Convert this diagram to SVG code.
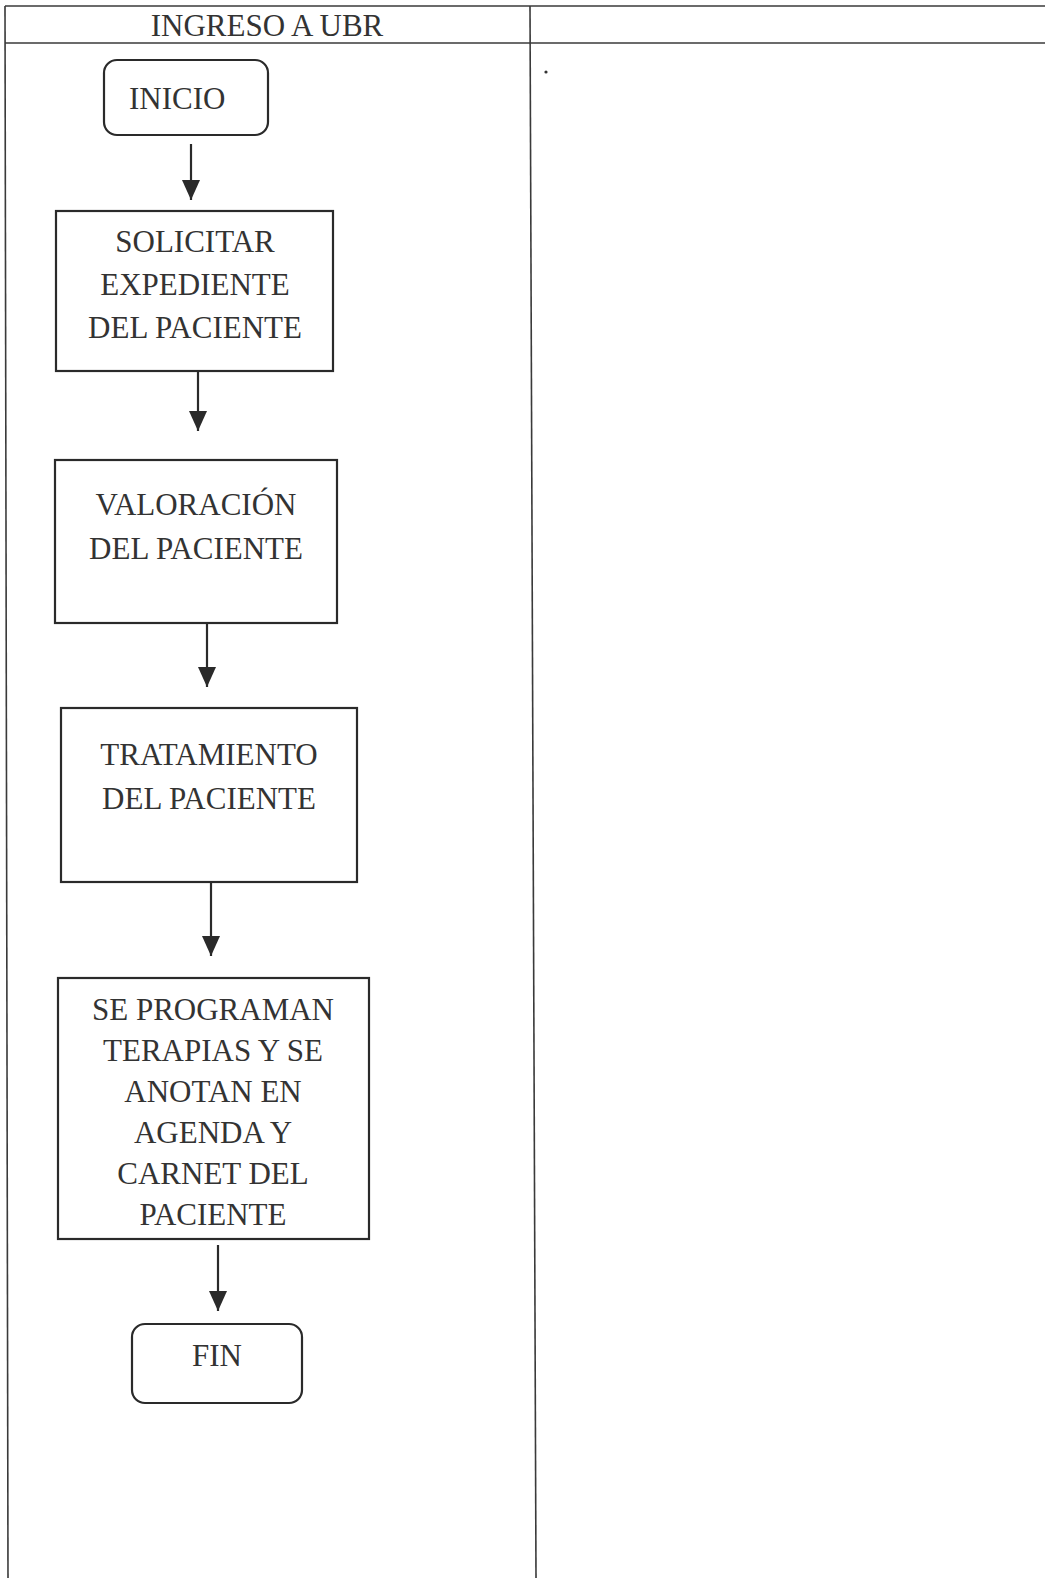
<svg xmlns="http://www.w3.org/2000/svg" width="1045" height="1578" viewBox="0 0 1045 1578">
<style>
.frame{stroke:#3a3a3a;stroke-width:1.6;fill:none}
.box{fill:#fff;stroke:#2a2a2a;stroke-width:2.2}
.t{font-family:"Liberation Serif","Times New Roman",serif;font-size:31px;fill:#333;text-anchor:middle}
.tl{text-anchor:start}
.conn{stroke:#2a2a2a;stroke-width:2.2;fill:none;marker-end:url(#ah)}
</style>
<defs>
<marker id="ah" markerUnits="userSpaceOnUse" markerWidth="20" markerHeight="18" viewBox="0 -9 20 18" refX="20" refY="0" orient="auto">
<path d="M0,-9 L20,0 L0,9 z" fill="#2a2a2a"/>
</marker>
</defs>
<rect width="1045" height="1578" fill="#fff"/>
<g id="table">
<line class="frame" x1="5" y1="6" x2="1045" y2="6"/>
<line class="frame" x1="5" y1="43" x2="1045" y2="43"/>
<line class="frame" x1="5" y1="6" x2="8" y2="1578"/>
<line class="frame" x1="530" y1="6" x2="536" y2="1578"/>
<text class="t" x="267" y="36">INGRESO A UBR</text>
<circle cx="546" cy="72" r="1.6" fill="#333"/>
</g>
<g id="inicio">
<rect class="box" x="104" y="60" width="164" height="75" rx="13"/>
<text class="t tl" x="129" y="109">INICIO</text>
</g>
<g id="solicitar">
<rect class="box" x="56" y="211" width="277" height="160"/>
<text class="t" x="195" y="252">SOLICITAR</text>
<text class="t" x="195" y="295">EXPEDIENTE</text>
<text class="t" x="195" y="338">DEL PACIENTE</text>
</g>
<g id="valoracion">
<rect class="box" x="55" y="460" width="282" height="163"/>
<text class="t" x="196" y="515">VALORACIÓN</text>
<text class="t" x="196" y="559">DEL PACIENTE</text>
</g>
<g id="tratamiento">
<rect class="box" x="61" y="708" width="296" height="174"/>
<text class="t" x="209" y="765">TRATAMIENTO</text>
<text class="t" x="209" y="809">DEL PACIENTE</text>
</g>
<g id="programan">
<rect class="box" x="58" y="978" width="311" height="261"/>
<text class="t" x="213" y="1020">SE PROGRAMAN</text>
<text class="t" x="213" y="1061">TERAPIAS Y SE</text>
<text class="t" x="213" y="1102">ANOTAN EN</text>
<text class="t" x="213" y="1143">AGENDA Y</text>
<text class="t" x="213" y="1184">CARNET DEL</text>
<text class="t" x="213" y="1225">PACIENTE</text>
</g>
<g id="fin">
<rect class="box" x="132" y="1324" width="170" height="79" rx="13"/>
<text class="t" x="217" y="1366">FIN</text>
</g>
<g id="connectors">
<line class="conn" x1="191" y1="144" x2="191" y2="200"/>
<line class="conn" x1="198" y1="372" x2="198" y2="431"/>
<line class="conn" x1="207" y1="623" x2="207" y2="687"/>
<line class="conn" x1="211" y1="882" x2="211" y2="956"/>
<line class="conn" x1="218" y1="1245" x2="218" y2="1311"/>
</g>
</svg>
